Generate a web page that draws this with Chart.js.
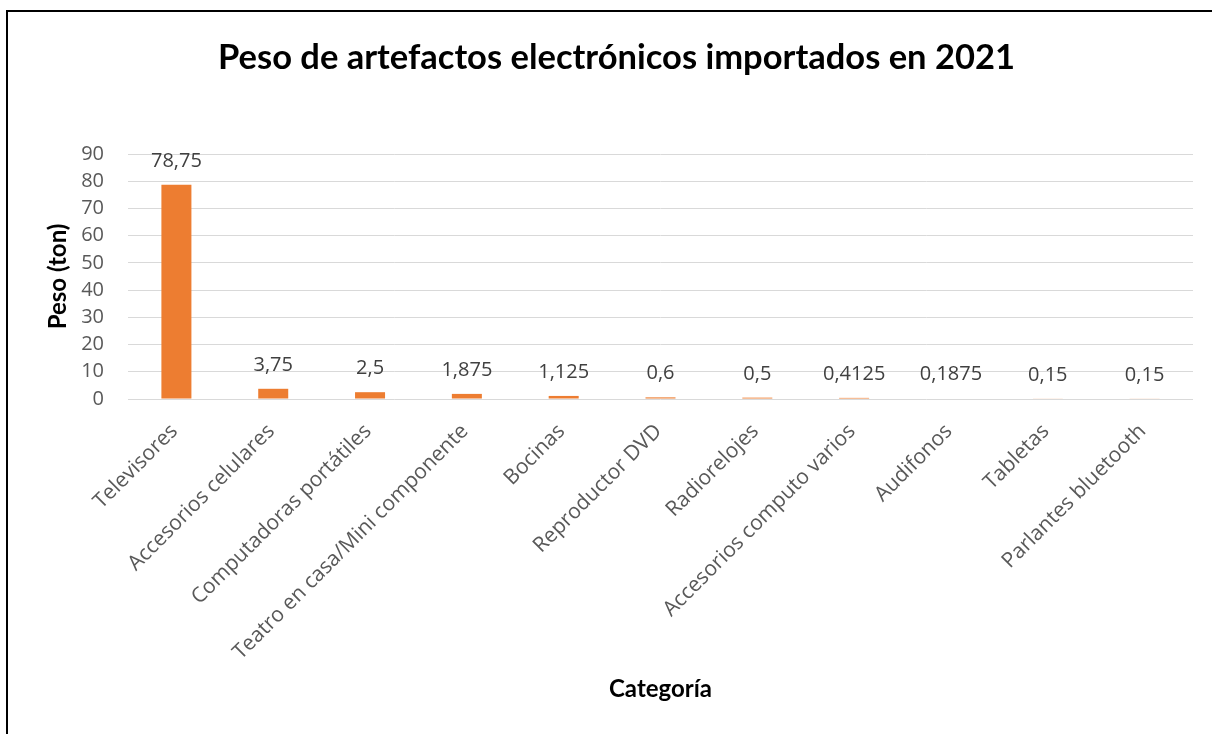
<!DOCTYPE html>
<html>
<head>
<meta charset="utf-8">
<script src="https://cdn.jsdelivr.net/npm/chart.js@4"></script>
<style>
  html, body { margin: 0; padding: 0; background: #fff; }
  #wrap { position: relative; width: 1212px; height: 734px; overflow: hidden; }
  #frame { position: absolute; left: 6px; top: 10px; width: 1220px; height: 740px;
           border-top: 2px solid #000; border-left: 2px solid #000; box-sizing: border-box; }
  canvas { position: absolute; left: 0; top: 0; }
</style>
</head>
<body>
<div id="wrap">
  <div id="frame"></div>
  <canvas id="c" width="1212" height="734"></canvas>
</div>
<script>
const categories = [
  "Televisores", "Accesorios celulares", "Computadoras portátiles",
  "Teatro en casa/Mini componente", "Bocinas", "Reproductor DVD",
  "Radiorelojes", "Accesorios computo varios", "Audifonos", "Tabletas",
  "Parlantes bluetooth"
];
const pesoTon = [78.75, 3.75, 2.5, 1.875, 1.125, 0.6, 0.5, 0.4125, 0.1875, 0.15, 0.15];
const yTicks = { min: 0, max: 90, step: 10 };
const chartTitle = "Peso de artefactos electrónicos importados en 2021";
const yTitle = "Peso (ton)";
const xTitle = "Categoría";

const valueLabels = {
  id: 'valueLabels',
  afterDatasetsDraw(chart) {
    const ctx = chart.ctx;
    const meta = chart.getDatasetMeta(0);
    ctx.save();
    ctx.font = '20px "Open Sans"';
    ctx.fillStyle = '#404040';
    ctx.textAlign = 'center';
    ctx.textBaseline = 'alphabetic';
    meta.data.forEach((bar, i) => {
      const txt = String(pesoTon[i]).replace('.', ',');
      ctx.fillText(txt, bar.x, bar.y - 18);
    });
    ctx.restore();
  }
};

new Chart(document.getElementById('c'), {
  type: 'bar',
  data: {
    labels: categories,
    datasets: [{
      data: pesoTon,
      backgroundColor: '#ED7D31',
      borderWidth: 0,
      barPercentage: 0.31,
      categoryPercentage: 1.0
    }]
  },
  options: {
    responsive: false,
    animation: false,
    devicePixelRatio: 1,
    layout: { padding: { left: 40, right: 19, top: 0, bottom: 30 } },
    plugins: {
      legend: { display: false },
      tooltip: { enabled: false },
      title: {
        display: true,
        text: chartTitle,
        color: '#000',
        font: { family: 'Lato', size: 34.5, weight: 'bold', lineHeight: 1.2 },
        padding: { top: 37, bottom: 75.6 }
      }
    },
    scales: {
      x: {
        grid: { display: false, drawTicks: false },
        border: { display: false },
        ticks: {
          color: '#595959',
          font: { family: 'Open Sans', size: 21 },
          minRotation: 45, maxRotation: 45,
          autoSkip: false,
          padding: 20,
          labelOffset: -2
        },
        title: {
          display: true, text: xTitle, color: '#000',
          font: { family: 'Lato', size: 24, weight: 'bold', lineHeight: 1.2 },
          padding: { top: 0, bottom: 0 }
        },
        afterFit(scale) { scale.height = 305; }
      },
      y: {
        min: yTicks.min, max: yTicks.max,
        grid: { color: '#D9D9D9', lineWidth: 1, drawTicks: false },
        border: { display: false },
        ticks: {
          stepSize: yTicks.step,
          color: '#595959',
          font: { family: 'Open Sans', size: 20 },
          padding: 24
        },
        title: {
          display: true, text: yTitle, color: '#000',
          font: { family: 'Lato', size: 24, weight: 'bold', lineHeight: 1.2 },
          padding: { top: 3.6, bottom: 0 }
        },
        afterFit(scale) { scale.width = 88; }
      }
    }
  },
  plugins: [valueLabels]
});
</script>
</body>
</html>
